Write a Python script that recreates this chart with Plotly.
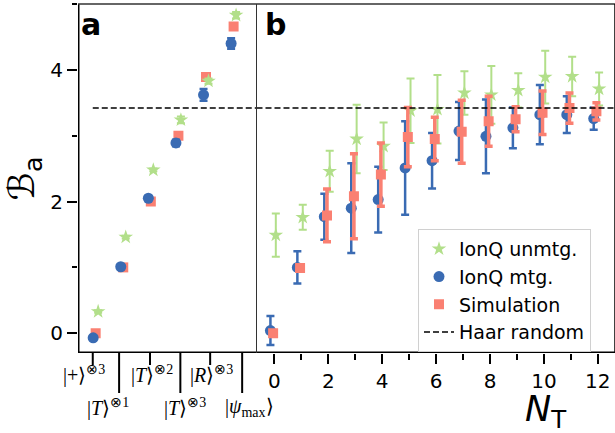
import plotly.graph_objects as go

# ---------------- data ----------------
STATE_LABELS_SHORT = ["|+⟩<sup>⊗3</sup>", "|<i>T</i>⟩<sup>⊗2</sup>", "|<i>R</i>⟩<sup>⊗3</sup>"]
STATE_LABELS_LONG = ["|<i>T</i>⟩<sup>⊗1</sup>", "|<i>T</i>⟩<sup>⊗3</sup>", "|<i>ψ</i><sub>max</sub>⟩"]
A_POS = [0, 1, 2, 3, 4, 5]
A_SIM = [0.0, 1.0, 2.0, 3.0, 3.89, 4.66]
A_SIM_ERR = [0.0, 0.0, 0.0, 0.0, 0.0, 0.0]
A_MTG = [-0.07, 1.01, 2.05, 2.89, 3.62, 4.40]
A_MTG_ERR = [0.03, 0.03, 0.03, 0.05, 0.09, 0.08]
A_UNMTG = [0.33, 1.46, 2.48, 3.24, 3.83, 4.83]
A_UNMTG_ERR = [0.02, 0.02, 0.02, 0.05, 0.04, 0.05]

N_T = [0, 1, 2, 3, 4, 5, 6, 7, 8, 9, 10, 11, 12]
B_UNMTG = [1.49, 1.76, 2.46, 2.95, 2.84, 3.38, 3.40, 3.65, 3.62, 3.69, 3.89, 3.90, 3.71]
B_UNMTG_ERR = [0.33, 0.19, 0.31, 0.52, 0.36, 0.49, 0.52, 0.33, 0.44, 0.26, 0.40, 0.30, 0.25]
B_MTG = [0.04, 1.00, 1.77, 1.90, 2.03, 2.51, 2.62, 3.07, 2.99, 3.12, 3.32, 3.32, 3.26]
B_MTG_ERR = [0.22, 0.245, 0.35, 0.68, 0.50, 0.71, 0.42, 0.44, 0.56, 0.31, 0.45, 0.28, 0.17]
B_SIM = [0.0, 0.99, 1.79, 2.08, 2.41, 2.98, 2.95, 3.06, 3.22, 3.25, 3.35, 3.42, 3.37]
B_SIM_ERR = [0.03, 0.03, 0.40, 0.645, 0.48, 0.45, 0.33, 0.48, 0.38, 0.19, 0.33, 0.23, 0.13]

HAAR = 3.42

# ---------------- styles ----------------
GREEN = "#b2df8a"
BLUE = "#3a6bb3"
RED = "#fa8072"
W, H = 615, 433
ML, MR, MT, MB = 78, 0, 4, 80
PW, PH = W - ML - MR, H - MT - MB
SPLIT = (256.5 - ML) / PW
A_RANGE = [-0.64, 5.83]
B_RANGE = [-0.667, 12.64]
Y_RANGE = [-0.3, 5.0]
A_TICK_SHORT = [-0.105, 1.97, 4.15]
A_TICK_LONG = [0.85, 3.07, 5.31]
HAAR_START_A = -0.105


def paper(px, py):
    return (px - ML) / PW, (MT + PH - py) / PH


def a_to_paper(v):
    return SPLIT * (v - A_RANGE[0]) / (A_RANGE[1] - A_RANGE[0])


fig = go.Figure()

# frame lines drawn as traces along the plot edges (half of each line shows inside)
frame = dict(color="black", width=3)
fig.add_trace(go.Scatter(x=[A_RANGE[0], A_RANGE[0]], y=Y_RANGE, mode="lines", line=frame,
                         xaxis="x", yaxis="y", showlegend=False, hoverinfo="skip"))
fig.add_trace(go.Scatter(x=A_RANGE, y=[Y_RANGE[0], Y_RANGE[0]], mode="lines", line=frame,
                         xaxis="x", yaxis="y", showlegend=False, hoverinfo="skip"))
fig.add_trace(go.Scatter(x=B_RANGE, y=[Y_RANGE[0], Y_RANGE[0]], mode="lines", line=frame,
                         xaxis="x2", yaxis="y2", showlegend=False, hoverinfo="skip"))


def add_series(x, y, err, offset, name, color, symbol, size, thick, xa, show):
    fig.add_trace(go.Scatter(
        x=[v + offset for v in x], y=y, mode="markers", name=name,
        xaxis=xa, yaxis="y" if xa == "x" else "y2", showlegend=show,
        marker=dict(color=color, symbol=symbol, size=size, line=dict(width=0)),
        error_y=dict(type="data", array=err, color=color, thickness=thick, width=4),
    ))


# panel a
add_series(A_POS, A_SIM, A_SIM_ERR, 0.0, "Simulation", RED, "square", 10, 3.5, "x", False)
add_series(A_POS, A_MTG, A_MTG_ERR, -0.09, "IonQ mtg.", BLUE, "circle", 11, 2.5, "x", False)
add_series(A_POS, A_UNMTG, A_UNMTG_ERR, 0.09, "IonQ unmtg.", GREEN, "star", 11, 2, "x", False)

# panel b
add_series(N_T, B_UNMTG, B_UNMTG_ERR, 0.05, "IonQ unmtg.", GREEN, "star", 11, 2, "x2", True)
add_series(N_T, B_MTG, B_MTG_ERR, -0.15, "IonQ mtg.", BLUE, "circle", 11, 2.5, "x2", True)
add_series(N_T, B_SIM, B_SIM_ERR, -0.05, "Simulation", RED, "square", 10, 3.5, "x2", True)

# Haar random line
fig.add_trace(go.Scatter(x=[HAAR_START_A, A_RANGE[1]], y=[HAAR, HAAR], mode="lines",
                         xaxis="x", yaxis="y", showlegend=False,
                         line=dict(color="black", width=1.6, dash="6px,3px")))
fig.add_trace(go.Scatter(x=B_RANGE, y=[HAAR, HAAR], mode="lines", name="Haar random",
                         xaxis="x2", yaxis="y2", showlegend=True,
                         line=dict(color="black", width=1.6, dash="6px,3px")))

axis_common = dict(showgrid=False, zeroline=False, tickcolor="black", automargin=False,
                   showline=False)

fig.update_layout(
    width=W, height=H,
    margin=dict(l=ML, r=MR, t=MT, b=MB, autoexpand=False),
    plot_bgcolor="white", paper_bgcolor="white",
    font=dict(family="DejaVu Sans", size=20, color="black"),
    xaxis=dict(domain=[0, SPLIT], range=A_RANGE, anchor="y", ticks="",
               showticklabels=False, **axis_common),
    yaxis=dict(domain=[0, 1], range=Y_RANGE, anchor="x",
               tickmode="linear", tick0=0, dtick=2, ticks="outside", ticklen=10,
               tickwidth=1.5, tickfont=dict(size=20),
               minor=dict(dtick=1, tick0=0, ticks="outside", ticklen=5, tickwidth=1.5,
                          tickcolor="black"),
               title=dict(text="ℬ<sub>a</sub>", font=dict(size=36), standoff=4),
               **axis_common),
    xaxis2=dict(domain=[SPLIT, 1], range=B_RANGE, anchor="y2",
                tickmode="linear", tick0=0, dtick=2, ticks="outside",
                ticklen=10, tickwidth=1.5, tickfont=dict(size=20),
                minor=dict(dtick=1, tick0=0, ticks="outside", ticklen=6, tickwidth=1.5,
                           tickcolor="black"),
                **axis_common),
    yaxis2=dict(domain=[0, 1], range=Y_RANGE, anchor="x2", showticklabels=False,
                ticks="", **axis_common),
    legend=dict(x=paper(418, 0)[0], y=paper(0, 229)[1], xanchor="left", yanchor="top",
                bgcolor="rgba(255,255,255,0.9)", bordercolor="#d0d0d0", borderwidth=1,
                font=dict(size=19), tracegroupgap=0, itemwidth=30),
)

shapes = [
    dict(type="line", xref="paper", yref="paper", x0=0, x1=1, y0=1, y1=1,
         line=dict(color="#333", width=1.3), layer="above"),
    dict(type="line", xref="paper", yref="paper", x0=1, x1=1, y0=0, y1=1,
         line=dict(color="black", width=1.5), layer="above"),
    dict(type="line", xref="paper", yref="paper", x0=SPLIT, x1=SPLIT, y0=0, y1=1,
         line=dict(color="#333", width=1.0), layer="above"),
]
# panel a ticks (alternating short / long)
for v in A_TICK_SHORT:
    xp = a_to_paper(v)
    shapes.append(dict(type="line", xref="paper", yref="paper", x0=xp, x1=xp, y0=0,
                       y1=-12 / PH, line=dict(color="black", width=2)))
for v in A_TICK_LONG:
    xp = a_to_paper(v)
    shapes.append(dict(type="line", xref="paper", yref="paper", x0=xp, x1=xp, y0=0,
                       y1=-40 / PH, line=dict(color="black", width=2)))
fig.update_layout(shapes=shapes)

annotations = []
for txt, (px, py) in zip(STATE_LABELS_SHORT, [(84, 374), (152, 374), (211, 374)]):
    x, y = paper(px, py)
    annotations.append(dict(text=txt, x=x, y=y, xref="paper", yref="paper", showarrow=False,
                            xanchor="center", yanchor="middle",
                            font=dict(family="Liberation Serif", size=20)))
for txt, (px, py) in zip(STATE_LABELS_LONG, [(108, 408), (185, 408), (249, 408)]):
    x, y = paper(px, py)
    annotations.append(dict(text=txt, x=x, y=y, xref="paper", yref="paper", showarrow=False,
                            xanchor="center", yanchor="middle",
                            font=dict(family="Liberation Serif", size=20)))
for txt, (px, py) in [("<b>a</b>", (91, 24)), ("<b>b</b>", (275, 24))]:
    x, y = paper(px, py)
    annotations.append(dict(text=txt, x=x, y=y, xref="paper", yref="paper", showarrow=False,
                            xanchor="center", yanchor="middle", font=dict(size=30)))
x, y = paper(546, 412)
annotations.append(dict(text="<i>N</i><sub>T</sub>", x=x, y=y, xref="paper", yref="paper",
                        showarrow=False, xanchor="center", yanchor="middle",
                        font=dict(size=35)))
fig.update_layout(annotations=annotations)

fig.write_html(
    "out.html",
    config={"displayModeBar": False},
    post_script="document.body.style.margin='0';document.body.style.overflow='hidden';",
)
